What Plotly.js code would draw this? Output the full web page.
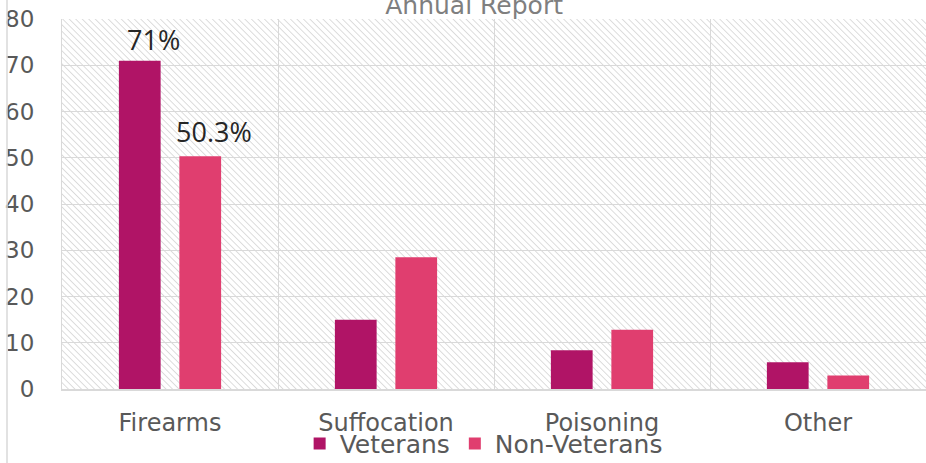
<!DOCTYPE html>
<html><head><meta charset="utf-8">
<script src="https://cdn.plot.ly/plotly-3.0.1.min.js"></script>
<style>html,body{margin:0;padding:0;background:#fff;}#chart{width:926px;height:463px;}</style>
</head><body><div id="chart"></div>
<script>
const categories = ["Firearms", "Suffocation", "Poisoning", "Other"];
const veterans = [71, 15, 8.4, 5.8];
const nonVeterans = [50.3, 28.5, 12.8, 2.9];
const veteranLabels = ["71%", "", "", ""];
const nonVeteranLabels = ["50.3%", "", "", ""];
const yTicks = [0, 10, 20, 30, 40, 50, 60, 70, 80];

const L = 62, T = 19, R = 0, B = 74, W = 926, H = 463;
const pw = W - L - R, ph = H - T - B;
const svg = `<svg xmlns="http://www.w3.org/2000/svg" width="${pw}" height="${ph}"><defs><pattern id="p" width="4.6" height="4.6" patternUnits="userSpaceOnUse" patternTransform="rotate(-45)"><line x1="0" y1="0" x2="0" y2="4.6" stroke="#d2d2d2" stroke-width="1.5"/></pattern></defs><rect width="${pw}" height="${ph}" fill="url(#p)"/></svg>`;
const bgSrc = "data:image/svg+xml;base64," + btoa(svg);

const font = "DejaVu Sans, sans-serif";
const labelFont = {family: "Open Sans, sans-serif", size: 27, color: "#262626"};
const traces = [
  {type: "bar", name: "Veterans", x: categories, y: veterans,
   marker: {color: "#b01466"}, hoverinfo: "x+y"},
  {type: "bar", name: "Non-Veterans", x: categories, y: nonVeterans,
   marker: {color: "#e03e6f"}, hoverinfo: "x+y"}
];

const annotations = [];
categories.forEach((c, i) => {
  if (veteranLabels[i]) annotations.push({x: c, y: veterans[i], xref: "x", yref: "y", text: veteranLabels[i],
    showarrow: false, xanchor: "center", yanchor: "bottom", xshift: -17, yshift: 1, font: labelFont});
  if (nonVeteranLabels[i]) annotations.push({x: c, y: nonVeterans[i], xref: "x", yref: "y", text: nonVeteranLabels[i],
    showarrow: false, xanchor: "center", yanchor: "bottom", xshift: 44, yshift: 4, font: labelFont});
});

const layout = {
  width: W, height: H,
  margin: {l: L, r: R, t: T, b: B, pad: 0, autoexpand: false},
  paper_bgcolor: "#fff", plot_bgcolor: "rgba(0,0,0,0)",
  font: {family: font, color: "#595959", size: 24},
  title: {text: "Annual Report", x: 0.512, xanchor: "center", y: 0.988, yanchor: "middle",
          font: {family: font, size: 25, color: "#7f7f7f"}},
  barmode: "group", bargap: 0.44, bargroupgap: 0.31,
  showlegend: true,
  legend: {orientation: "h", x: 0.488, xanchor: "center", y: -0.148, yanchor: "middle",
           font: {family: font, size: 25, color: "#595959"}, bgcolor: "rgba(0,0,0,0)",
           tracegroupgap: 0},
  annotations: annotations,
  xaxis: {type: "category", range: [-0.5, 3.5], tickson: "boundaries", ticks: "",
          showgrid: true, gridcolor: "#d9d9d9", gridwidth: 1,
          showline: true, linecolor: "#d9d9d9", linewidth: 2,
          tickfont: {family: font, size: 24, color: "#595959"}, ticklabelstandoff: 11,
          fixedrange: true},
  yaxis: {range: [0, 80], tickvals: yTicks, ticktext: yTicks.map(String), ticks: "",
          showgrid: true, gridcolor: "#d9d9d9", gridwidth: 1, zeroline: false,
          showline: true, linecolor: "#d9d9d9", linewidth: 1,
          tickfont: {family: font, size: 23, color: "#595959"}, ticklabelstandoff: 22,
          fixedrange: true},
  images: [{source: bgSrc, xref: "paper", yref: "paper", x: 0, y: 1, sizex: 1, sizey: 1,
            xanchor: "left", yanchor: "top", sizing: "stretch", layer: "below"}],
  shapes: [{type: "line", xref: "paper", yref: "paper", x0: (7 - L) / pw, x1: (7 - L) / pw,
            y0: -(B) / ph, y1: 1 + T / ph, line: {color: "#d9d9d9", width: 1.5}}]
};

Plotly.newPlot("chart", traces, layout, {displayModeBar: false, staticPlot: true});
</script></body></html>
